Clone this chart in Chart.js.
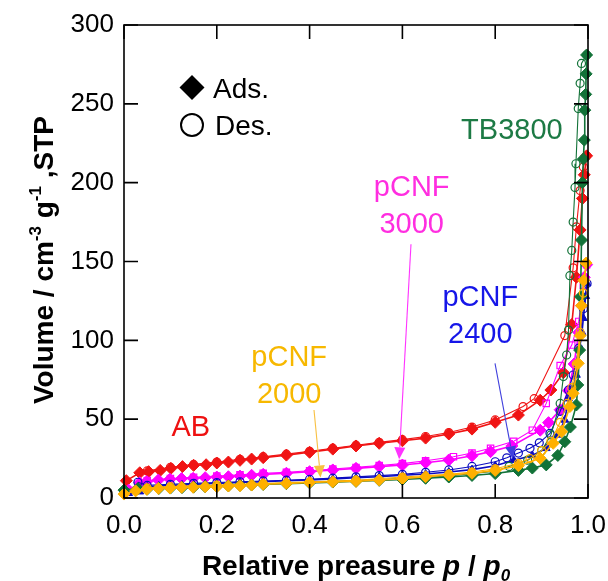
<!DOCTYPE html>
<html><head><meta charset="utf-8">
<script src="https://cdn.jsdelivr.net/npm/chart.js@4.4.0/dist/chart.umd.min.js"></script>
<style>html,body{margin:0;padding:0;background:#fff;}#wrap{width:608px;height:581px;position:relative;}</style>
</head><body><div id="wrap"><canvas id="c" width="608" height="581"></canvas></div>
<script>
// ---- Data (relative pressure p/p0, volume cm3 g-1 STP) ----
const xTicks = [0.0, 0.2, 0.4, 0.6, 0.8, 1.0];
const yTicks = [0, 50, 100, 150, 200, 250, 300];

const abAdsP = [0.005,0.034,0.053,0.078,0.101,0.126,0.15,0.177,0.2,0.225,0.25,0.275,0.3,0.35,0.4,0.45,0.5,0.55,0.6,0.65,0.7,0.75,0.8,0.85,0.897,0.92,0.947,0.965,0.975,0.983,0.988,0.992,0.997];
const abAdsV = [11,16,16.7,17.5,18.8,19.9,20.7,21.1,22.2,22.8,23.9,24.7,25.6,27.2,29,31,33,34.7,36.3,38,40.6,43.7,48,52.6,62,68.5,79.5,110,140,170,190,205,217];
const abDesP = [0.997,0.99,0.983,0.975,0.968,0.95,0.884,0.86,0.8,0.75,0.7,0.65,0.6,0.55,0.5,0.45,0.4,0.35,0.3,0.25,0.2,0.15,0.1,0.05];
const abDesV = [217,210,195,172,146,103,63,58,49.5,45,41.5,39,37,35.3,33.5,31.6,29.6,27.8,26.2,24.5,22.8,21.3,19.5,17.2];

const c3000AdsP = [0.01,0.034,0.049,0.074,0.099,0.124,0.149,0.175,0.2,0.225,0.25,0.275,0.3,0.35,0.4,0.45,0.5,0.55,0.6,0.65,0.7,0.75,0.79,0.836,0.897,0.915,0.94,0.958,0.97,0.98,0.986,0.992,0.997];
const c3000AdsV = [5,9.7,10.4,11.4,11.9,12.3,12.5,12.9,13.3,13.5,13.9,14.4,15,15.7,16.7,17.8,18.8,19.9,20.9,22.4,24.1,26.8,29.4,33,43,47.8,56,68,85,105,122,140,148];
const c3000DesP = [0.997,0.99,0.98,0.965,0.94,0.91,0.88,0.84,0.79,0.75,0.71,0.65,0.6,0.55,0.5,0.45,0.4,0.35,0.3,0.25,0.2,0.15,0.1,0.05];
const c3000DesV = [148,135,112,97,84,60,43,36,31.5,28.5,26.2,23.6,21.8,20.6,19.4,18.4,17.3,16.3,15.6,14.7,14,13.2,12.4,11];

const c2400AdsP = [0.01,0.034,0.05,0.075,0.1,0.125,0.15,0.175,0.2,0.25,0.3,0.35,0.4,0.45,0.5,0.55,0.6,0.65,0.7,0.75,0.8,0.84,0.88,0.91,0.935,0.95,0.958,0.968,0.975,0.982,0.987,0.99,0.995,0.998];
const c2400AdsV = [3,4,7,7.6,8,8.3,8.6,9,9.3,9.8,10.3,10.9,11.5,12.1,12.8,13.5,14.4,15.2,16.5,18,20.5,24,27,31.5,40,49.5,63,70,78,95,105,114,128,136];
const c2400DesP = [0.998,0.99,0.98,0.968,0.958,0.94,0.918,0.895,0.875,0.85,0.825,0.8,0.75,0.7,0.65,0.6,0.55,0.5,0.45,0.4,0.35,0.3,0.25,0.2,0.15,0.1,0.05,0.03];
const c2400DesV = [136,120,95,78,68.5,55,41,35,31.5,28.5,25.5,23,20,17.8,16.3,15,14.2,13.4,12.6,11.9,11.3,10.8,10.3,9.8,9.3,8.7,8,10];

const c2000AdsP = [0.0,0.025,0.049,0.074,0.099,0.124,0.149,0.175,0.2,0.225,0.25,0.275,0.3,0.35,0.4,0.45,0.5,0.55,0.6,0.65,0.7,0.75,0.8,0.85,0.897,0.925,0.943,0.961,0.968,0.979,0.983,0.986,0.991,0.996];
const c2000AdsV = [2.5,4.5,5.5,6.1,6.3,6.8,6.8,7.2,7.2,7.6,7.8,8.2,8.7,9.3,9.8,10.3,10.6,11.4,12.3,13.5,14.6,15.7,17.5,20.5,25.2,34.7,42,58,66.4,85.4,103,122,138,149];
const c2000DesP = [0.996,0.99,0.983,0.975,0.965,0.955,0.94,0.92,0.9,0.875,0.85,0.8,0.75,0.7,0.6,0.5,0.4,0.3,0.2,0.1,0.05];
const c2000DesV = [149,130,105,85,70,60,48,36,30,25,22,18.5,16.5,15,13.3,11.3,10.2,9.2,8.2,7.2,6.3];

const tbAdsP = [0.0,0.03,0.05,0.075,0.1,0.125,0.15,0.175,0.2,0.225,0.25,0.275,0.3,0.35,0.4,0.45,0.5,0.55,0.6,0.65,0.7,0.75,0.8,0.85,0.88,0.91,0.935,0.95,0.962,0.975,0.978,0.982,0.984,0.986,0.988,0.99,0.992,0.993,0.995,0.996,0.997];
const tbAdsV = [5,6,5.6,6,6.3,6.6,6.9,7.1,7.4,7.7,8,8.3,8.6,9.1,9.6,10.1,10.6,11.2,11.8,12.5,13.3,14.3,15.5,17.5,19,21,27,35.7,45,59,71.7,93.8,127.6,163.6,200,215,227,246,256,269,281];
const tbDesP = [0.997,0.986,0.983,0.979,0.974,0.972,0.968,0.965,0.961,0.958,0.954,0.947,0.94,0.92,0.9,0.87,0.83,0.8,0.7,0.6,0.5,0.4,0.3,0.2,0.1,0.05];
const tbDesV = [281,275.6,263,247,212,197,175,157,141,106.5,90.7,77,60,40,30,24,20,17,14,12.3,11,9.9,9,7.8,6.8,6.2];

// ---- styling ----
const FONT = '"Liberation Sans", Arial, Helvetica, sans-serif';
const RED = '#f01414', MAG = '#ff00ff', BLUE = '#0c0cc0', ORG = '#ffb000', GRN = '#127238';

function pts(P, V) { return P.map((p, i) => ({ x: p, y: V[i] })); }
function ds(label, P, V, color, style, filled, radius, lw) {
  return {
    label, data: pts(P, V), showLine: true, clip: false,
    borderColor: color, backgroundColor: filled ? color : 'rgba(0,0,0,0)',
    pointBackgroundColor: filled ? color : 'rgba(0,0,0,0)', pointBorderColor: color,
    pointStyle: style, pointRadius: radius, pointHoverRadius: radius,
    pointBorderWidth: filled ? 1 : 1.2, borderWidth: lw, tension: 0
  };
}

const datasets = [
  ds('pCNF2000 ads', c2000AdsP, c2000AdsV, ORG, 'rectRot', true, 6, 1.6),
  ds('pCNF2000 des', c2000DesP, c2000DesV, ORG, 'circle', false, 4, 1.1),
  ds('TB3800 ads', tbAdsP, tbAdsV, GRN, 'rectRot', true, 6, 1.6),
  ds('TB3800 des', tbDesP, tbDesV, GRN, 'circle', false, 4, 1.1),
  ds('pCNF2400 ads', c2400AdsP, c2400AdsV, BLUE, 'triangle', true, 4.5, 1.6),
  ds('pCNF2400 des', c2400DesP, c2400DesV, BLUE, 'circle', false, 4, 1.1),
  ds('pCNF3000 ads', c3000AdsP, c3000AdsV, MAG, 'rectRot', true, 6, 1.6),
  ds('pCNF3000 des', c3000DesP, c3000DesV, MAG, 'rect', false, 4.5, 1.1),
  ds('AB ads', abAdsP, abAdsV, RED, 'rectRot', true, 6, 1.6),
  ds('AB des', abDesP, abDesV, RED, 'circle', false, 4, 1.1)
];

// annotation labels (data coordinates)
const labels = [
  { lines: ['TB3800'], p: 0.836, v: 233, color: '#1d7a45' },
  { lines: ['pCNF', '3000'], p: 0.62, v: 196.5, color: '#ff2ee0' },
  { lines: ['pCNF', '2400'], p: 0.768, v: 126.8, color: '#1616e8' },
  { lines: ['pCNF', '2000'], p: 0.356, v: 88.8, color: '#f7b800' },
  { lines: ['AB'], p: 0.144, v: 44.4, color: '#ee1111' }
];
const arrows = [
  { p0: 0.6185, v0: 161, p1: 0.593, v1: 24.5, color: '#ff33ff' },
  { p0: 0.7996, v0: 85.4, p1: 0.838, v1: 25.2, color: '#4040dd' },
  { p0: 0.4095, v0: 55.8, p1: 0.4235, v1: 13, color: '#f8c040' }
];

function drawRich(ctx, segs, x, y) {
  let total = 0;
  segs.forEach(s => { ctx.font = s.font; s.w = ctx.measureText(s.t).width; total += s.w; });
  let cx = x - total / 2;
  ctx.textAlign = 'left'; ctx.textBaseline = 'alphabetic';
  segs.forEach(s => { ctx.font = s.font; ctx.fillText(s.t, cx, y + (s.dy || 0)); cx += s.w; });
}

const deco = {
  id: 'deco',
  afterDatasetsDraw(chart) {
    const ctx = chart.ctx, a = chart.chartArea, xs = chart.scales.x, ys = chart.scales.y;
    ctx.save();
    // frame
    ctx.strokeStyle = '#000'; ctx.lineWidth = 1.6;
    ctx.strokeRect(a.left, a.top, a.right - a.left, a.bottom - a.top);
    // inward ticks on all four sides
    const TL = 14;
    xTicks.forEach(t => {
      const x = xs.getPixelForValue(t);
      ctx.beginPath(); ctx.moveTo(x, a.bottom); ctx.lineTo(x, a.bottom - TL);
      ctx.moveTo(x, a.top); ctx.lineTo(x, a.top + TL); ctx.stroke();
    });
    yTicks.forEach(t => {
      const y = ys.getPixelForValue(t);
      ctx.beginPath(); ctx.moveTo(a.left, y); ctx.lineTo(a.left + TL, y);
      ctx.moveTo(a.right, y); ctx.lineTo(a.right - TL, y); ctx.stroke();
    });
    // arrows
    arrows.forEach(ar => {
      const x0 = xs.getPixelForValue(ar.p0), y0 = ys.getPixelForValue(ar.v0);
      const x1 = xs.getPixelForValue(ar.p1), y1 = ys.getPixelForValue(ar.v1);
      const ang = Math.atan2(y1 - y0, x1 - x0), L = 12, W = 5.5;
      const bx = x1 - L * Math.cos(ang), by = y1 - L * Math.sin(ang);
      ctx.strokeStyle = ar.color; ctx.fillStyle = ar.color; ctx.lineWidth = 1.1;
      ctx.beginPath(); ctx.moveTo(x0, y0); ctx.lineTo(bx, by); ctx.stroke();
      ctx.beginPath(); ctx.moveTo(x1, y1);
      ctx.lineTo(bx + W * Math.sin(ang), by - W * Math.cos(ang));
      ctx.lineTo(bx - W * Math.sin(ang), by + W * Math.cos(ang));
      ctx.closePath(); ctx.fill();
    });
    // annotation labels
    ctx.textAlign = 'center'; ctx.textBaseline = 'middle';
    ctx.font = '29px ' + FONT;
    labels.forEach(l => {
      const x = xs.getPixelForValue(l.p), y = ys.getPixelForValue(l.v);
      ctx.fillStyle = l.color;
      l.lines.forEach((s, i) => ctx.fillText(s, x, y + i * 37));
    });
    // legend
    ctx.fillStyle = '#000'; ctx.strokeStyle = '#000';
    ctx.beginPath(); ctx.moveTo(192, 75); ctx.lineTo(204.5, 87.5); ctx.lineTo(192, 100); ctx.lineTo(179.5, 87.5); ctx.closePath(); ctx.fill();
    ctx.lineWidth = 2;
    ctx.beginPath(); ctx.arc(192, 125, 11, 0, Math.PI * 2); ctx.stroke();
    ctx.textAlign = 'left'; ctx.textBaseline = 'alphabetic'; ctx.font = '28px ' + FONT;
    ctx.fillText('Ads.', 213, 98);
    ctx.fillText('Des.', 215, 135);
    // axis titles
    ctx.fillStyle = '#000';
    const B = 'bold 28px ' + FONT, BI = 'italic bold 28px ' + FONT;
    drawRich(ctx, [
      { t: 'Relative preasure ', font: B }, { t: 'p', font: BI }, { t: ' / ', font: B },
      { t: 'p', font: BI }, { t: '0', font: 'italic bold 17px ' + FONT, dy: 6 }
    ], (a.left + a.right) / 2, 575);
    ctx.translate(53, 260); ctx.rotate(-Math.PI / 2);
    drawRich(ctx, [
      { t: 'Volume / cm', font: B }, { t: '-3', font: 'bold 17px ' + FONT, dy: -12 },
      { t: ' g', font: B }, { t: '-1', font: 'bold 17px ' + FONT, dy: -12 },
      { t: ' ,STP', font: B }
    ], 0, 0);
    ctx.restore();
  }
};

new Chart(document.getElementById('c'), {
  type: 'scatter',
  data: { datasets },
  options: {
    responsive: false, animation: false, devicePixelRatio: 1,
    layout: { padding: { top: 25, right: 20, left: 0, bottom: 0 } },
    plugins: { legend: { display: false }, tooltip: { enabled: false } },
    scales: {
      x: {
        type: 'linear', min: 0, max: 1,
        afterBuildTicks: s => { s.ticks = xTicks.map(v => ({ value: v })); },
        afterFit: s => { s.height = 83; s.paddingLeft = 0; s.paddingRight = 0; },
        grid: { display: false, drawTicks: false }, border: { display: false },
        ticks: { color: '#000', font: { family: FONT, size: 26 }, padding: 12, maxRotation: 0,
                 callback: v => Number(v).toFixed(1) }
      },
      y: {
        type: 'linear', min: 0, max: 300,
        afterBuildTicks: s => { s.ticks = yTicks.map(v => ({ value: v })); },
        afterFit: s => { s.width = 124; s.paddingTop = 0; s.paddingBottom = 0; },
        grid: { display: false, drawTicks: false }, border: { display: false },
        ticks: { color: '#000', font: { family: FONT, size: 26 }, padding: 10,
                 callback: v => String(v) }
      }
    }
  },
  plugins: [deco]
});
</script>
</body></html>
